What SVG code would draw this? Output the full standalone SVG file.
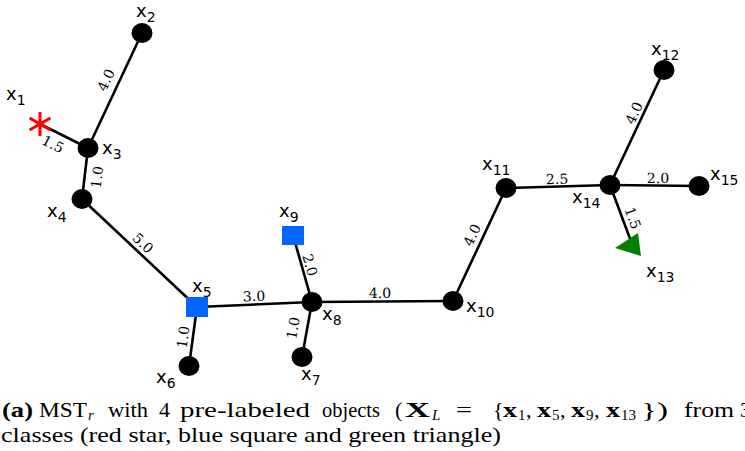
<svg xmlns="http://www.w3.org/2000/svg" width="745" height="451" viewBox="0 0 745 451">
<style>
.e{stroke:#000;stroke-width:2.6;fill:none}
.n{fill:#000}
.sq{fill:#0066ff}
.el{font-family:"DejaVu Serif",serif;font-size:14px;fill:#000;text-anchor:middle;dominant-baseline:central}
.nl{font-family:"DejaVu Sans",sans-serif;font-size:18px;fill:#000}
.sub{font-size:14px}
.cap{font-family:"Liberation Serif",serif;font-size:22px;fill:#000}
.b{font-weight:bold}
.i{font-style:italic}
.s{font-size:15px}
</style>
<rect width="745" height="451" fill="#fff"/>
<g id="connectors">
<line class="e" x1="40" y1="124" x2="88" y2="148"/>
<line class="e" x1="142" y1="33" x2="88" y2="148"/>
<line class="e" x1="88" y1="148" x2="82" y2="199"/>
<line class="e" x1="82" y1="199" x2="197" y2="307"/>
<line class="e" x1="197" y1="307" x2="189" y2="366"/>
<line class="e" x1="197" y1="307" x2="312" y2="302"/>
<line class="e" x1="293" y1="235" x2="312" y2="302"/>
<line class="e" x1="312" y1="302" x2="302" y2="357"/>
<line class="e" x1="312" y1="302" x2="453" y2="301"/>
<line class="e" x1="453" y1="301" x2="506" y2="188"/>
<line class="e" x1="506" y1="188" x2="610" y2="185"/>
<line class="e" x1="610" y1="185" x2="664" y2="70"/>
<line class="e" x1="610" y1="185" x2="699" y2="186"/>
<line class="e" x1="610" y1="185" x2="632" y2="244"/>
<text class="el" transform="translate(106,80) rotate(-65)">4.0</text>
<text class="el" transform="translate(53,144) rotate(27)">1.5</text>
<text class="el" transform="translate(97,177) rotate(-83)">1.0</text>
<text class="el" transform="translate(143,243) rotate(43)">5.0</text>
<text class="el" transform="translate(183,337) rotate(-82)">1.0</text>
<text class="el" transform="translate(254,296) rotate(-2)">3.0</text>
<text class="el" transform="translate(310,265) rotate(74)">2.0</text>
<text class="el" transform="translate(293,328) rotate(-80)">1.0</text>
<text class="el" transform="translate(380,293) rotate(-0.5)">4.0</text>
<text class="el" transform="translate(472,235) rotate(-65)">4.0</text>
<text class="el" transform="translate(557,179) rotate(-1.7)">2.5</text>
<text class="el" transform="translate(634,113) rotate(-65)">4.0</text>
<text class="el" transform="translate(658,178) rotate(0.5)">2.0</text>
<text class="el" transform="translate(633,218) rotate(70)">1.5</text>
</g>
<g id="x1">
<g stroke="#ff0000" stroke-width="3">
<line x1="40" y1="112" x2="40" y2="136"/>
<line x1="29.6" y1="118" x2="50.4" y2="130"/>
<line x1="29.6" y1="130" x2="50.4" y2="118"/>
</g>
<text class="nl" x="6" y="100">x<tspan class="sub" dy="5">1</tspan></text>
</g>
<g id="x2"><ellipse class="n" cx="142" cy="33" rx="10.5" ry="10"/><text class="nl" x="136" y="17">x<tspan class="sub" dy="5">2</tspan></text></g>
<g id="x3"><ellipse class="n" cx="88" cy="148" rx="10.5" ry="10"/><text class="nl" x="102" y="154">x<tspan class="sub" dy="5">3</tspan></text></g>
<g id="x4"><ellipse class="n" cx="82" cy="199" rx="10.5" ry="10"/><text class="nl" x="47" y="217">x<tspan class="sub" dy="5">4</tspan></text></g>
<g id="x5"><rect class="sq" x="186" y="297" width="22" height="20"/><text class="nl" x="192" y="292">x<tspan class="sub" dy="5">5</tspan></text></g>
<g id="x6"><ellipse class="n" cx="189" cy="366" rx="10.5" ry="10"/><text class="nl" x="156" y="383">x<tspan class="sub" dy="5">6</tspan></text></g>
<g id="x7"><ellipse class="n" cx="302" cy="357" rx="10.5" ry="10"/><text class="nl" x="301" y="380">x<tspan class="sub" dy="5">7</tspan></text></g>
<g id="x8"><ellipse class="n" cx="312" cy="302" rx="10.5" ry="10"/><text class="nl" x="322" y="320">x<tspan class="sub" dy="5">8</tspan></text></g>
<g id="x9"><rect class="sq" x="282" y="226" width="22" height="19"/><text class="nl" x="279" y="217">x<tspan class="sub" dy="5">9</tspan></text></g>
<g id="x10"><ellipse class="n" cx="453" cy="301" rx="10.5" ry="10"/><text class="nl" x="466" y="312">x<tspan class="sub" dy="5">10</tspan></text></g>
<g id="x11"><ellipse class="n" cx="506" cy="188" rx="10.5" ry="10"/><text class="nl" x="482" y="170">x<tspan class="sub" dy="5">11</tspan></text></g>
<g id="x12"><ellipse class="n" cx="664" cy="70" rx="10.5" ry="10"/><text class="nl" x="651" y="55">x<tspan class="sub" dy="5">12</tspan></text></g>
<g id="x13"><polygon points="615,248 638,233 641,256" fill="#008000"/><text class="nl" x="646" y="277">x<tspan class="sub" dy="5">13</tspan></text></g>
<g id="x14"><ellipse class="n" cx="610" cy="185" rx="10.5" ry="10"/><text class="nl" x="572" y="203">x<tspan class="sub" dy="5">14</tspan></text></g>
<g id="x15"><ellipse class="n" cx="699" cy="186" rx="10.5" ry="10"/><text class="nl" x="710" y="180">x<tspan class="sub" dy="5">15</tspan></text></g>
<g id="caption">
<text class="cap" y="417"><tspan class="b" x="2" textLength="31" lengthAdjust="spacingAndGlyphs">(a)</tspan><tspan x="39" textLength="48" lengthAdjust="spacingAndGlyphs">MST</tspan><tspan class="i s" x="88" dy="3">r</tspan><tspan x="108" dy="-3" textLength="40" lengthAdjust="spacingAndGlyphs">with</tspan><tspan x="159">4</tspan><tspan x="180" textLength="130" lengthAdjust="spacingAndGlyphs">pre-labeled</tspan><tspan x="322" textLength="58" lengthAdjust="spacingAndGlyphs">objects</tspan><tspan x="395">(</tspan><tspan class="b" x="405" textLength="25" lengthAdjust="spacingAndGlyphs">X</tspan><tspan class="i s" x="432" dy="3">L</tspan><tspan x="456" dy="-3" textLength="16" lengthAdjust="spacingAndGlyphs">=</tspan><tspan x="493">{</tspan><tspan class="b" x="503" textLength="14" lengthAdjust="spacingAndGlyphs">x</tspan><tspan class="s" x="518" dy="3">1</tspan><tspan x="526" dy="-3">,</tspan><tspan class="b" x="537" textLength="14" lengthAdjust="spacingAndGlyphs">x</tspan><tspan class="s" x="552" dy="3">5</tspan><tspan x="560" dy="-3">,</tspan><tspan class="b" x="571" textLength="14" lengthAdjust="spacingAndGlyphs">x</tspan><tspan class="s" x="586" dy="3">9</tspan><tspan x="594" dy="-3">,</tspan><tspan class="b" x="606" textLength="14" lengthAdjust="spacingAndGlyphs">x</tspan><tspan class="s" x="621" dy="3">13</tspan><tspan x="641" dy="-3" textLength="27" lengthAdjust="spacingAndGlyphs">})</tspan><tspan x="684" textLength="50" lengthAdjust="spacingAndGlyphs">from</tspan><tspan x="740">3</tspan></text>
<text class="cap" x="1" y="442" textLength="500" lengthAdjust="spacingAndGlyphs">classes (red star, blue square and green triangle)</text>
</g>
</svg>
